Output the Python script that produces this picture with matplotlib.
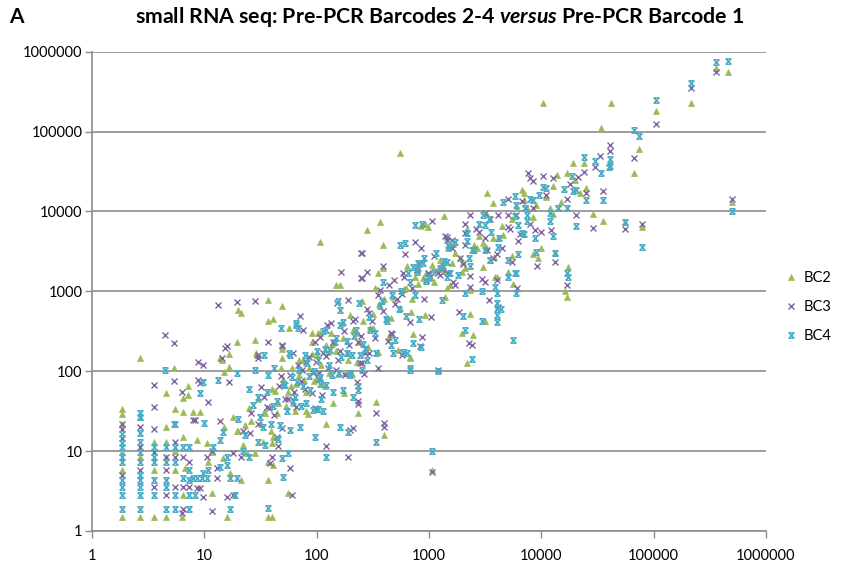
import matplotlib.pyplot as plt
from matplotlib.path import Path
from matplotlib.ticker import NullLocator
from matplotlib.lines import Line2D

# read counts per miRNA, estimated from the published scatter (x = Barcode 1, y = Barcode 2/3/4)
bc2 = [
    (460000, 550000), (360000, 620000), (215000, 230000), (105000, 180000), (74000, 60000), (67000, 30000),
    (42000, 230000), (10300, 230000), (34000, 112000), (40000, 40900), (19300, 40900), (24000, 40900),
    (13900, 28200), (17000, 30000), (12700, 21100), (25000, 19900), (6700, 18800), (7000, 16800),
    (3300, 17000), (3700, 12900), (12000, 11000), (12700, 9400), (29000, 9400), (35500, 7500),
    (500000, 13000), (79000, 6300), (56000, 7300), (6100, 11200), (7500, 11200), (2200, 6100),
    (1370, 8700), (915, 7000), (980, 6300), (850, 6500), (365, 7300), (281, 5800), (390, 3850),
    (107, 4200), (550, 54700), (3000, 4000), (3200, 3550), (3700, 4700), (4150, 4600), (1480, 3450),
    (1900, 2650), (2100, 1950), (8400, 2900), (9300, 2650), (13300, 3000), (17400, 2000), (17000, 840),
    (16300, 1000), (3000, 2000), (4050, 1500), (5000, 1730), (3880, 1500), (5600, 1250), (3150, 420),
    (2300, 515), (1450, 1090), (1550, 1190), (1060, 2150), (1600, 2250), (755, 1500), (885, 1450),
    (640, 2100), (780, 1900), (330, 1090), (352, 1680), (390, 1950), (149, 1200), (160, 1200),
    (37, 770), (49, 650), (20, 580), (21, 530), (37, 430), (41, 445), (28.4, 243), (19.5, 230),
    (2.7, 146), (16.6, 163), (16.6, 112), (13.8, 145), (14.5, 140), (49, 188), (29.5, 158), (5.4, 109),
    (15, 97), (7.1, 66), (57, 343), (91, 305), (103, 305), (29, 168), (140, 40), (336, 41), (233, 30),
    (80, 32), (121, 22), (400, 15.8), (175, 54), (680, 150), (440, 265), (450, 290), (720, 290),
    (680, 145), (2200, 126), (2450, 281), (1950, 298), (1060, 5.8),
    (1.85, 34), (1.85, 29), (1.85, 22), (1.85, 9.8), (1.85, 5.8), (1.85, 1.5),
    (2.7, 27), (2.7, 8.5), (2.7, 1.5), (3.6, 13), (3.6, 5.8), (3.6, 1.5),
    (4.6, 54), (4.6, 20), (4.6, 13), (4.6, 8.4), (4.6, 1.5), (5.5, 34), (5.5, 10), (5.5, 5.8),
    (6.4, 46), (6.4, 31), (6.4, 15), (6.4, 2.8), (6.3, 1.5), (6.7, 6.1), (7.1, 50), (7.9, 31),
    (8.6, 13.7), (9.2, 31), (10.6, 12.6), (10.8, 7.3), (11.7, 9.7), (11.7, 3.0), (14.6, 8.2),
    (16, 1.5), (17, 5.3), (18, 26.6), (19.5, 18), (21, 4.3), (24, 9.4), (28, 9.4), (33, 13),
    (37, 7.3), (37, 4.3), (37, 1.5), (40, 1.5), (40, 12.6), (41, 15), (41, 6.7), (55, 3.0), (23, 21), (15, 20),
    (25, 35), (30, 45), (35, 30), (40, 60), (45, 40), (50, 80), (55, 55), (60, 110), (65, 70), (70, 90),
    (75, 140), (85, 110), (95, 75), (100, 160), (110, 120), (120, 210), (130, 95), (150, 180), (170, 260),
    (190, 140), (210, 330), (240, 230), (260, 420), (300, 350), (320, 520), (360, 700), (420, 480),
    (480, 850), (550, 620), (620, 1100), (700, 800), (800, 1250), (950, 1700), (1100, 1300), (1250, 2500),
    (1400, 1800), (1700, 3000), (2000, 2300), (2500, 3800), (2800, 5000), (4500, 6500), (5500, 8000),
    (9000, 12000), (11000, 15000), (15000, 13000), (20000, 25000), (22000, 17000),
    (20, 18), (22, 12), (26, 24), (32, 22), (44, 30), (48, 110), (62, 40), (80, 55), (90, 230),
    (115, 70), (135, 300), (180, 95), (200, 500), (230, 130), (270, 180),
    (34, 31), (39, 18), (43, 56), (49, 147), (53, 37), (59, 65), (64, 32), (69, 138), (77, 77), (84, 29),
    (91, 164), (99, 79), (108, 302), (118, 65), (126, 176), (138, 221), (155, 93), (168, 403),
    (185, 167), (205, 92), (230, 299), (255, 765), (285, 200), (315, 347), (350, 175), (400, 800),
    (460, 460), (530, 186), (600, 1080), (690, 552), (800, 2240), (920, 506), (1050, 1470), (1200, 1920),
    (1400, 840), (1650, 3960), (1950, 1755), (2300, 1035), (2700, 3510), (3200, 9600), (3800, 2660),
    (4600, 5060), (5500, 2750), (7000, 14000), (8500, 8500), (10000, 3500),
]

bc3 = [
    (360000, 550000), (215000, 355000), (105000, 123000), (67000, 46100), (41000, 67000), (41000, 57800),
    (33000, 50000), (29800, 36500), (24000, 31600), (35500, 17800), (500000, 14500), (56000, 6100),
    (79000, 7000), (7600, 30000), (7900, 26600), (10300, 27400), (12700, 26000), (21000, 27000),
    (5000, 14500), (6700, 13700), (7200, 11200), (8400, 11000), (17000, 14500), (25000, 17000),
    (20300, 9100), (29000, 6200), (2300, 9100), (3150, 9700), (4150, 9100), (2100, 7000), (2100, 5400),
    (1060, 7700), (1450, 4850), (1600, 4400), (5000, 6300), (5300, 5950), (6200, 4300), (8800, 5800),
    (12300, 5800), (3150, 4700), (4050, 2900), (3700, 2650), (5500, 2300), (9100, 2050), (13300, 2300),
    (1200, 1680), (1480, 1680), (980, 1680), (590, 1680), (615, 2900), (755, 4100), (850, 3450),
    (2100, 3850), (2300, 1540), (17000, 1190), (254, 3050), (254, 1450), (281, 1730), (390, 2100),
    (1000, 1630), (1400, 5000), (490, 1370), (2960, 1410), (3150, 1300), (3400, 790), (6100, 1090),
    (2250, 224), (2400, 211), (352, 109), (254, 126), (870, 265), (830, 205), (470, 290), (1650, 1300),
    (4150, 630), (1850, 550), (590, 173), (580, 158), (460, 298), (243, 126), (290, 168), (270, 168),
    (228, 73), (233, 43), (233, 39), (336, 30), (97, 35), (100, 34), (400, 22.4), (400, 20), (211, 19.5),
    (198, 18.3), (121, 11.5), (190, 8.4), (1060, 5.4), (1200, 103), (248, 3000), (166, 1750), (248, 1450),
    (190, 790), (152, 710), (28.4, 750), (71, 486), (37, 230), (49, 211), (30, 158), (124, 375), (107, 265),
    (76, 325), (13.2, 670), (19.5, 730), (4.5, 281), (5.4, 224), (15.3, 194), (16, 205), (14.5, 145),
    (49, 205), (3.6, 67), (5.4, 75), (8.8, 130), (9.7, 119), (8.8, 77), (9.2, 71), (16.6, 73), (30, 145),
    (3.6, 36), (6.3, 54.5), (3.6, 19), (7.9, 24.4), (10.8, 41),
    (1.85, 22), (1.85, 19), (1.85, 14.4), (1.85, 5.0), (2.7, 20), (2.7, 11.3), (2.7, 5.8), (3.6, 9.8),
    (3.6, 3.6), (4.6, 8.5), (4.6, 5.8), (4.6, 2.8), (5.5, 13), (5.5, 8.5), (5.5, 3.6), (6.4, 8.5),
    (6.4, 3.6), (6.4, 1.9), (7.3, 7.3), (7.3, 3.6), (8.6, 3.5), (9.2, 3.5), (9.7, 2.7), (11.7, 1.8),
    (6.3, 1.7), (16, 2.7), (18, 2.8), (18, 9.4), (21, 8.4), (38.5, 7.1), (49, 19.4), (58, 6.1), (60, 2.8),
    (12.9, 4.6), (10.6, 8.4), (11.7, 10), (13.8, 24), (8.2, 24.4), (25.6, 16.7), (40, 8.4), (45, 11.5), (13, 6.1),
    (22, 18), (26, 30), (30, 22), (34, 48), (38, 35), (42, 28), (46, 65), (52, 45), (58, 90), (63, 55),
    (68, 120), (72, 75), (78, 60), (85, 150), (92, 95), (98, 130), (105, 80), (115, 170), (125, 110),
    (140, 230), (155, 140), (175, 320), (195, 210), (220, 450), (250, 280), (280, 600), (310, 420),
    (350, 900), (390, 560), (440, 1200), (520, 800), (600, 1500), (700, 1100), (820, 2200), (950, 1400),
    (1100, 2800), (1300, 1900), (1600, 3500), (1900, 2600), (2600, 6000), (3500, 8000), (4500, 3500),
    (6000, 9000), (8000, 7000), (11000, 16000), (14000, 11000), (18000, 22000),
    (32, 64), (36, 36), (44, 15), (48, 86), (56, 45), (61, 171), (66, 36), (74, 104), (81, 130), (90, 54),
    (96, 230), (104, 94), (112, 50), (120, 156), (135, 405), (148, 104), (162, 178), (180, 90),
    (210, 420), (235, 235), (265, 93), (295, 531), (330, 264), (370, 1036), (430, 237), (500, 700),
    (580, 928), (680, 408), (780, 1872), (900, 810), (1050, 473), (1250, 1625), (1450, 4350),
    (1700, 1190), (2000, 2200), (2300, 1150), (2800, 5600), (3300, 3300), (4000, 1400), (5000, 9000),
    (6500, 5200), (8500, 23800), (10000, 5500),
]

bc4 = [
    (360000, 750000), (460000, 770000), (215000, 410000), (105000, 250000), (67000, 105000), (74000, 89000),
    (41000, 46000), (41000, 37600), (34000, 30000), (35500, 14000), (500000, 10000), (56000, 7300),
    (79000, 3600), (24000, 48700), (29800, 43000), (40000, 36500), (18900, 27400), (10300, 20500),
    (19300, 18300), (5800, 15800), (7900, 14500), (8400, 14000), (20300, 18800), (25000, 14000),
    (17000, 11000), (7200, 11000), (20300, 6500), (12000, 7500), (12700, 5000), (8800, 4600), (5800, 8700),
    (6200, 6700), (6700, 5400), (7500, 9100), (3400, 7950), (3150, 6700), (2200, 5300), (2200, 4300),
    (1480, 3850), (755, 6700), (870, 7000), (3150, 3250), (3500, 2500), (4150, 3550), (6200, 2900),
    (5800, 1680), (13300, 3000), (17000, 1680), (17400, 1500), (2300, 2050), (2250, 2650), (615, 4000),
    (800, 1950), (780, 1730), (885, 2250), (1250, 1950), (1340, 2100), (1450, 2300), (550, 3850),
    (800, 2250), (680, 1300), (390, 1300), (1550, 1680), (1450, 1500), (2960, 1000), (3880, 1150),
    (4050, 940), (4050, 720), (4050, 600), (4050, 500), (4050, 410), (5000, 1500), (5950, 1680), (5950, 940),
    (2100, 325), (2400, 141), (5600, 245), (1060, 10), (680, 103), (680, 109), (254, 103), (243, 158),
    (460, 211), (500, 243), (233, 66), (233, 58), (211, 47), (172, 58), (103, 34), (114, 31.6), (121, 8.4),
    (97, 15), (160, 20), (190, 17.3), (336, 13), (850, 200), (720, 224), (640, 168), (590, 173),
    (2960, 420), (2000, 486), (4400, 600), (1200, 100), (155, 750), (160, 580), (48, 343), (66, 400),
    (68, 343), (34, 158), (121, 325), (160, 375), (4.5, 103), (9.7, 73), (13.2, 77), (19.5, 94),
    (28.4, 103), (66, 375), (2.67, 30), (2.67, 26.6), (5.4, 21.6), (9.2, 53), (10, 22.4),
    (1.85, 16.6), (1.85, 12.5), (1.85, 11.3), (1.85, 8.5), (1.85, 7.3), (1.85, 4.3), (1.85, 3.6),
    (1.85, 2.8), (1.85, 1.87), (2.7, 17), (2.7, 13), (2.7, 9.8), (2.7, 7.3), (2.7, 5.0), (2.7, 4.3),
    (2.7, 3.6), (2.7, 2.8), (2.7, 1.87), (3.6, 11.3), (3.6, 8.5), (3.6, 7.3), (3.6, 4.3), (3.6, 2.8),
    (4.6, 11.3), (4.6, 7.3), (4.6, 4.3), (4.6, 3.6), (4.6, 1.87), (5.5, 22), (5.5, 11.3), (5.5, 7.3),
    (5.5, 2.8), (5.5, 1.87), (6.4, 11.3), (6.4, 4.6), (7.3, 11.3), (7.3, 5.8), (7.3, 4.3), (7.3, 2.8),
    (7.3, 1.9), (7.9, 4.6), (8.6, 4.6), (9.5, 4.6), (10.6, 4.6), (10.8, 5.8), (9.7, 5.3), (8.2, 2.8),
    (12, 11.2), (13.8, 13.7), (14.6, 17.3), (16, 8.4), (13.8, 6.3), (16, 6.7), (18.8, 2.8), (19.5, 4.6),
    (17, 4.6), (37, 1.95), (50, 4.7), (49, 8.2), (17, 1.9), (58, 18.3), (71, 20), (22, 10), (25, 8.5),
    (30, 13), (35, 12), (45, 14), (55, 9.6),
    (20, 25), (23, 16), (27, 38), (31, 27), (36, 55), (39, 22), (44, 42), (50, 70), (54, 32), (60, 85),
    (64, 48), (70, 105), (76, 66), (82, 125), (88, 58), (95, 100), (102, 140), (108, 70), (118, 190),
    (128, 120), (138, 90), (150, 260), (165, 150), (185, 240), (205, 160), (225, 330), (260, 220),
    (290, 480), (330, 300), (370, 650), (410, 450), (470, 900), (540, 600), (650, 1700), (750, 900),
    (900, 2600), (1000, 1500), (1150, 3000), (1350, 2400), (1700, 4200), (2400, 3300), (2800, 7000),
    (3600, 5500), (4600, 13000), (7000, 5200), (9500, 16000), (12000, 9500),
    (25, 60), (42, 110), (58, 160), (80, 40), (110, 45), (140, 55), (200, 95), (280, 140),
    (30, 48), (33, 20), (37, 89), (41, 37), (47, 21), (52, 68), (57, 171), (62, 43), (67, 74), (73, 37),
    (79, 158), (86, 86), (93, 33), (100, 180), (106, 85), (113, 316), (122, 67), (132, 185), (145, 232),
    (158, 95), (172, 413), (188, 169), (200, 90), (215, 280), (240, 720), (270, 189), (300, 330),
    (340, 170), (380, 760), (420, 420), (480, 168), (560, 1010), (620, 496), (720, 2016), (820, 451),
    (950, 1330), (1100, 1760), (1300, 780), (1500, 3600), (1800, 1620), (2100, 945), (2500, 3250),
    (3000, 9000), (3500, 2450), (4200, 4620), (5000, 2500), (6000, 12000), (7500, 7500), (9000, 3150),
    (11000, 19800), (14000, 11200), (16000, 19000),
]

decades = [1, 10, 100, 1000, 10000, 100000, 1000000]
tick_labels = ["1", "10", "100", "1000", "10000", "100000", "1000000"]

green = "#9BBB59"
purple = "#8064A2"
cyan = "#4BACC6"
grey = "#8C8C8C"

plt.rcParams["font.family"] = ["Lato", "DejaVu Sans"]
plt.rcParams["mathtext.fontset"] = "custom"
plt.rcParams["mathtext.it"] = "Lato:italic:bold"
plt.rcParams["mathtext.rm"] = "Lato:bold"

# excel-style star marker: an x with caps top and bottom
star = Path(
    [(-1, 1), (1, 1), (-1, -1), (1, -1), (-1, 1), (1, -1), (1, 1), (-1, -1)],
    [Path.MOVETO, Path.LINETO, Path.MOVETO, Path.LINETO, Path.MOVETO, Path.LINETO, Path.MOVETO, Path.LINETO],
)

fig = plt.figure(figsize=(8.53, 5.71), dpi=100)
ax = fig.add_axes([92 / 853, 1 - 531 / 571, (766 - 92) / 853, (531 - 51.7) / 571])

x2, y2 = zip(*bc2)
x3, y3 = zip(*bc3)
x4, y4 = zip(*bc4)
ax.plot(x2, y2, ls="none", marker="^", ms=5, mfc=green, mec=green, mew=0.5, label="BC2")
ax.plot(x3, y3, ls="none", marker="x", ms=4.5, mec=purple, mew=1.0, label="BC3")
ax.plot(x4, y4, ls="none", marker=star, ms=4, mfc="none", mec=cyan, mew=1.0, label="BC4")

ax.set_xscale("log")
ax.set_yscale("log")
ax.set_xlim(1, 1e6)
ax.set_ylim(1, 1e6)
ax.set_xticks(decades)
ax.set_xticklabels(tick_labels)
ax.set_yticks(decades)
ax.set_yticklabels(tick_labels)
ax.xaxis.set_minor_locator(NullLocator())
ax.yaxis.set_minor_locator(NullLocator())
ax.tick_params(axis="both", direction="out", length=5, width=1, color=grey, labelsize=10.5)
ax.tick_params(axis="y", pad=2)
ax.tick_params(axis="x", pad=8)
ax.yaxis.grid(True, color=grey, lw=1.2)
ax.set_axisbelow(True)
for s in ["top", "right"]:
    ax.spines[s].set_visible(False)
for s in ["left", "bottom"]:
    ax.spines[s].set_color(grey)
    ax.spines[s].set_linewidth(1.2)

handles = [
    Line2D([], [], ls="none", marker="^", ms=5, mfc=green, mec=green, mew=0.5),
    Line2D([], [], ls="none", marker="x", ms=4.5, mec=purple, mew=1.0),
    Line2D([], [], ls="none", marker=star, ms=4, mfc="none", mec=cyan, mew=1.0),
]
fig.legend(handles, ["BC2", "BC3", "BC4"], loc="center left", bbox_to_anchor=(772 / 853, 1 - 307 / 571),
           frameon=False, fontsize=10.5, handlelength=0.8, handletextpad=0.5, labelspacing=1.05)

fig.text(440 / 853, 1 - 17 / 571, "small RNA seq: Pre-PCR Barcodes 2-4 $\\mathit{versus}$ Pre-PCR Barcode 1",
         ha="center", va="center", fontsize=15.3, fontweight="bold")
fig.text(16 / 853, 1 - 17 / 571, "A", ha="center", va="center", fontsize=15, fontweight="bold")

fig.savefig("out.png", dpi=100)
